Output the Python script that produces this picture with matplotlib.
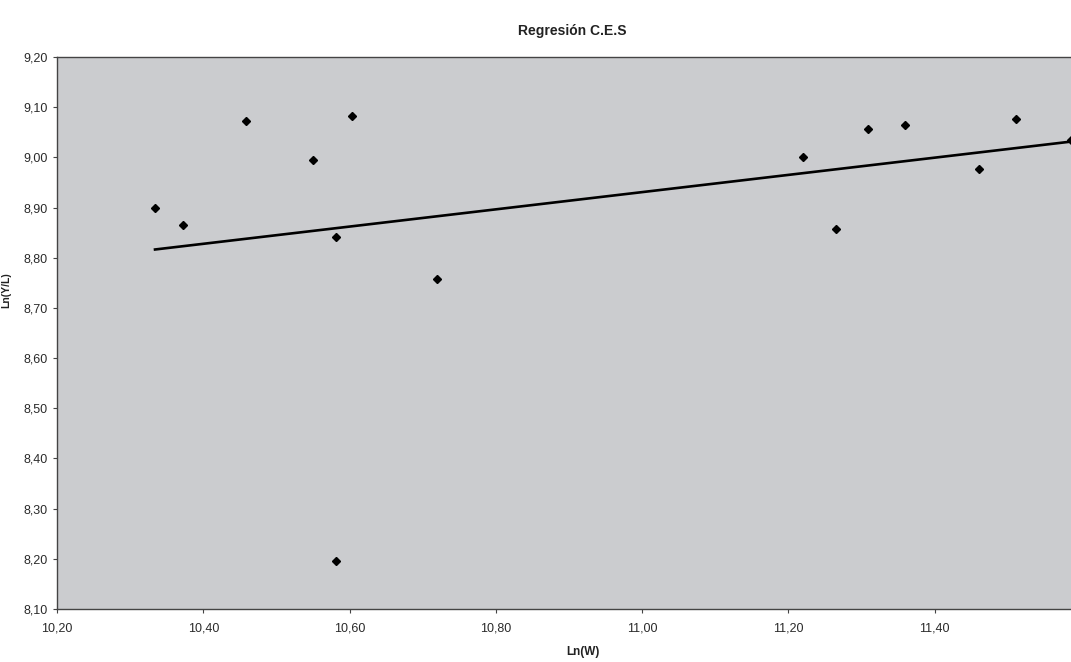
import numpy as np
import matplotlib
matplotlib.use("Agg")
import matplotlib.pyplot as plt
from matplotlib.ticker import FixedLocator, FuncFormatter

plt.rcParams['font.family'] = ['Liberation Sans', 'DejaVu Sans']

# Observations: ln(W) and ln(Y/L)
ln_w = [10.334, 10.372, 10.458, 10.550, 10.581, 10.582, 10.603, 10.719,
        11.220, 11.265, 11.309, 11.359, 11.461, 11.511, 11.586]
ln_yl = [8.900, 8.865, 9.072, 8.994, 8.841, 8.196, 9.082, 8.758,
         9.000, 8.857, 9.057, 9.065, 8.977, 9.076, 9.034]

x_ticks = [10.20, 10.40, 10.60, 10.80, 11.00, 11.20, 11.40]
y_ticks = [8.10, 8.20, 8.30, 8.40, 8.50, 8.60, 8.70, 8.80, 8.90, 9.00, 9.10, 9.20]

x = np.array(ln_w)
y = np.array(ln_yl)
slope, intercept = np.polyfit(x, y, 1)
xfit = np.array([x.min(), x.max()])

fig = plt.figure(figsize=(10.71, 6.62), dpi=100)
ax = fig.add_axes([57 / 1071, 53 / 662, 1024 / 1071, 552 / 662])
ax.set_facecolor('#cbcccf')

ax.plot(xfit, slope * xfit + intercept, color='black', lw=1.9, zorder=3)
ax.plot(x, y, linestyle='none', marker='D', markersize=4.2,
        color='black', zorder=4)

ax.set_xlim(10.20, 11.60)
ax.set_ylim(8.10, 9.20)

comma = FuncFormatter(lambda v, p: f"{v:.2f}".replace('.', ','))
ax.xaxis.set_major_locator(FixedLocator(x_ticks))
ax.yaxis.set_major_locator(FixedLocator(y_ticks))
ax.xaxis.set_major_formatter(comma)
ax.yaxis.set_major_formatter(comma)
ax.tick_params(axis='both', direction='out', length=3, width=0.8,
               labelsize=9, colors='#444444', labelcolor='#2a2a2a')
ax.tick_params(axis='x', pad=7)
ax.tick_params(axis='y', pad=4)

for side in ('left', 'bottom', 'top'):
    ax.spines[side].set_color('#444444')
    ax.spines[side].set_linewidth(1.0)
ax.spines['right'].set_visible(False)

fig.text(572 / 1071, 1 - 31 / 662, 'Regresión C.E.S', ha='center', va='center',
         fontsize=10, fontweight='bold', color='#222222')
fig.text(583 / 1071, 1 - 652 / 662, 'Ln(W)', ha='center', va='center',
         fontsize=8.5, fontweight='bold', color='#222222')
fig.text(1.5 / 1071, 1 - 290 / 662, 'Ln(Y/L)', ha='left', va='center', rotation=90,
         fontsize=7.5, fontweight='bold', color='#222222')

fig.savefig('out.png', dpi=100, facecolor='white')
